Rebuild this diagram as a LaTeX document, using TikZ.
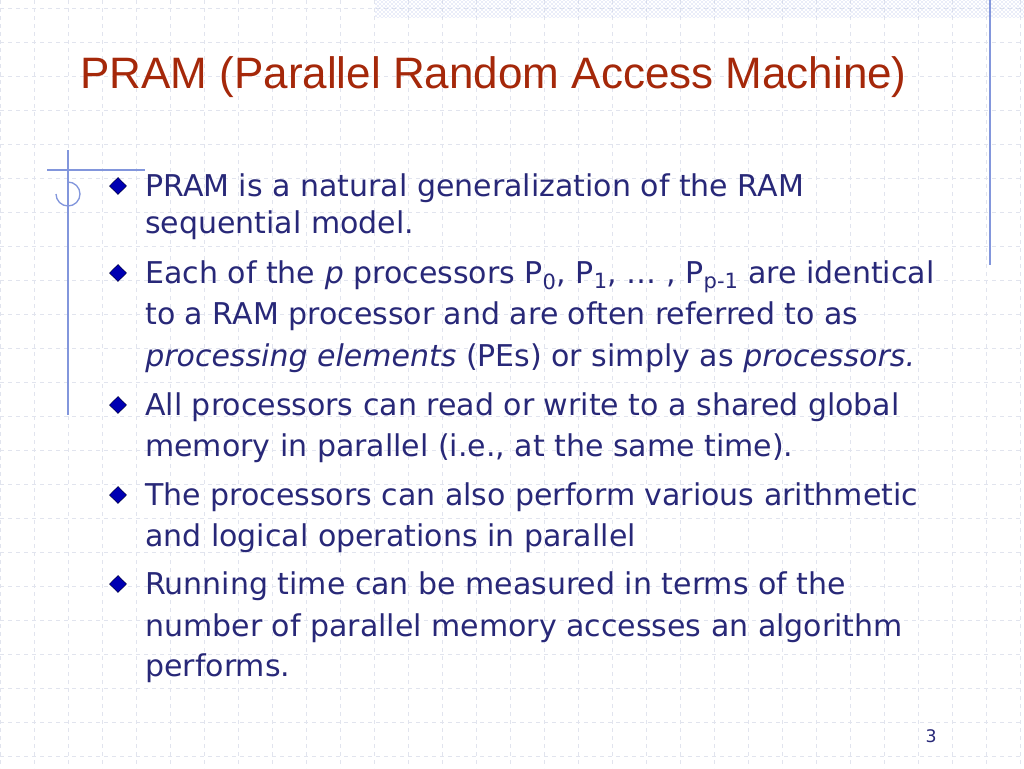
\documentclass[tikz,border=0pt]{standalone}
\usepackage{fontspec}
\setmainfont{DejaVu Sans}
\newfontfamily\titlefont{Liberation Sans}
\usetikzlibrary{patterns,shapes.geometric}
\definecolor{txt}{RGB}{40,40,120}
\definecolor{ttl}{RGB}{165,40,10}
\definecolor{deco}{RGB}{130,150,220}
\definecolor{gridc}{RGB}{225,228,238}
\begin{document}
\begin{tikzpicture}[x=0.75pt,y=-0.75pt,
  ln/.style={anchor=base west,inner sep=0pt,text=txt,font=\fontsize{22.5}{27}\selectfont},
  bul/.style={diamond,fill=blue!70!black,draw=black,dash pattern=on 0.6pt off 0.6pt,inner sep=0pt,minimum size=13pt}]
\useasboundingbox (0,0) rectangle (1024,768);
\fill[white] (0,0) rectangle (1024,768);
\foreach \x in {0,34,...,1024} \draw[gridc,dashed,line width=0.5pt] (\x,0) -- (\x,768);
\foreach \y in {8,42,...,768} \draw[gridc,dashed,line width=0.5pt] (0,\y) -- (1024,\y);
\fill[pattern=crosshatch dots,pattern color=deco!70] (375,0) rectangle (1024,17);
\draw[deco,line width=1pt] (990,0) -- (990,265);
\draw[deco,line width=1pt] (47,170) -- (145,170);
\draw[deco,line width=1pt] (68,150) -- (68,415);
\draw[deco,line width=1pt] (68,182) arc (-90:180:12) ;
\node[anchor=base west,inner sep=0pt,text=ttl,font=\titlefont\fontsize{33}{40}\selectfont] (title) at (80,88) {PRAM (Parallel Random Access Machine)};
\foreach \n/\y in {1/186,2/273,3/405,4/495,5/584} \node[bul] (b\n) at (118,\y) {};
\node[ln] (l1) at (145,196) {PRAM is a natural generalization of the RAM};
\node[ln] (l2) at (145,233) {sequential model.};
\node[ln] (l3) at (145,283) {Each of the \textit{p} processors P\textsubscript{0}, P\textsubscript{1}, … , P\textsubscript{p-1} are identical};
\node[ln] (l4) at (145,324) {to a RAM processor and are often referred to as};
\node[ln] (l5) at (145,366) {\textit{processing elements} (PEs) or simply as \textit{processors.}};
\node[ln] (l6) at (145,415) {All processors can read or write to a shared global};
\node[ln] (l7) at (145,456) {memory in parallel (i.e., at the same time).};
\node[ln] (l8) at (145,505) {The processors can also perform various arithmetic};
\node[ln] (l9) at (145,546) {and logical operations in parallel};
\node[ln] (l10) at (145,594) {Running time can be measured in terms of the};
\node[ln] (l11) at (145,636) {number of parallel memory accesses an algorithm};
\node[ln] (l12) at (145,676) {performs.};
\node[anchor=base east,inner sep=0pt,text=txt,font=\fontsize{13}{15}\selectfont] (pg) at (937,742) {3};
\end{tikzpicture}
\end{document}
